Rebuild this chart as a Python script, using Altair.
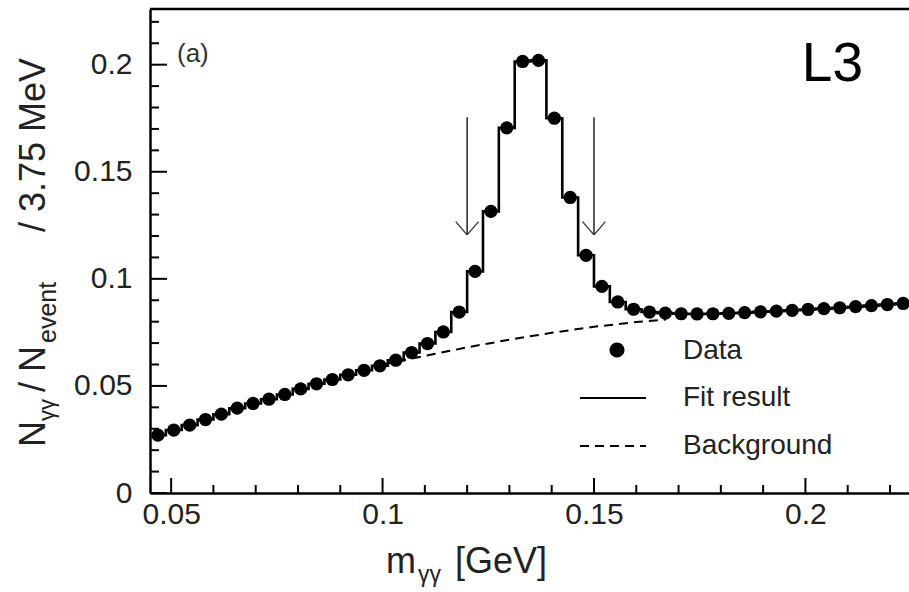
import altair as alt
import pandas as pd

# ---------------- data ----------------
bin_centers = [0.046875, 0.050625, 0.054375, 0.058125, 0.061875, 0.065625, 0.069375, 0.073125,
               0.076875, 0.080625, 0.084375, 0.088125, 0.091875, 0.095625, 0.099375, 0.103125,
               0.106875, 0.110625, 0.114375, 0.118125, 0.121875, 0.125625, 0.129375, 0.133125,
               0.136875, 0.140625, 0.144375, 0.148125, 0.151875, 0.155625, 0.159375, 0.163125,
               0.166875, 0.170625, 0.174375, 0.178125, 0.181875, 0.185625, 0.189375, 0.193125,
               0.196875, 0.200625, 0.204375, 0.208125, 0.211875, 0.215625, 0.219375, 0.223125]
data_values = [0.0270, 0.0294, 0.0317, 0.0343, 0.0368, 0.0396, 0.0418, 0.0438,
               0.0460, 0.0486, 0.0510, 0.0530, 0.0552, 0.0573, 0.0594, 0.0620,
               0.0656, 0.0698, 0.0752, 0.0845, 0.1035, 0.1315, 0.1705, 0.2015,
               0.2020, 0.1750, 0.1380, 0.1110, 0.0965, 0.0892, 0.0858, 0.0845,
               0.0840, 0.0837, 0.0836, 0.0837, 0.0839, 0.0842, 0.0846, 0.0849,
               0.0853, 0.0857, 0.0861, 0.0865, 0.0870, 0.0875, 0.0880, 0.0885]
fit_values = [0.0270, 0.0294, 0.0317, 0.0343, 0.0368, 0.0396, 0.0418, 0.0438,
              0.0460, 0.0486, 0.0510, 0.0530, 0.0552, 0.0573, 0.0594, 0.0620,
              0.0656, 0.0698, 0.0752, 0.0845, 0.1035, 0.1315, 0.1705, 0.2015,
              0.2020, 0.1750, 0.1380, 0.1110, 0.0965, 0.0892, 0.0858, 0.0845,
              0.0840, 0.0837, 0.0836, 0.0837, 0.0839, 0.0842, 0.0846, 0.0849,
              0.0853, 0.0857, 0.0861, 0.0865, 0.0870, 0.0875, 0.0880, 0.0885]
bg_x = [0.100, 0.110, 0.120, 0.130, 0.140, 0.150, 0.160, 0.167]
bg_y = [0.0600, 0.0640, 0.0680, 0.0716, 0.0748, 0.0776, 0.0798, 0.0810]

arrow_x = [0.12, 0.15]
arrow_top = 0.1755
arrow_tip = 0.1205

x_major = [0.05, 0.10, 0.15, 0.20]
x_minor = [0.06, 0.07, 0.08, 0.09, 0.11, 0.12, 0.13, 0.14, 0.16, 0.17, 0.18, 0.19, 0.21, 0.22]
y_major = [0.0, 0.05, 0.10, 0.15, 0.20]
y_minor = [0.01, 0.02, 0.03, 0.04, 0.06, 0.07, 0.08, 0.09, 0.11, 0.12, 0.13, 0.14,
           0.16, 0.17, 0.18, 0.19, 0.21, 0.22]

legend_labels = ["Data", "Fit result", "Background"]

# ---------------- layout ----------------
W, H = 759, 484
FONT = "Liberation Sans"
TXT = "#222222"

xscale = alt.Scale(domain=[0.045, 0.2245], nice=False, zero=False)
yscale = alt.Scale(domain=[0.0, 0.226], nice=False, zero=False)
xaxis = alt.Axis(values=x_major, format="~g", ticks=False, grid=False, title=None,
                 domainColor="black", domainWidth=2.5, labelFont=FONT, labelFontSize=30,
                 labelColor=TXT, labelPadding=6, labelFlush=False, labelOverlap=False)
yaxis = alt.Axis(values=y_major, format="~g", ticks=False, grid=False, title=None,
                 domainColor="black", domainWidth=2.5, labelFont=FONT, labelFontSize=30,
                 labelColor=TXT, labelPadding=18, labelOverlap=False)


def X(f):
    return alt.X(f, type="quantitative", scale=xscale, axis=xaxis)


def Y(f):
    return alt.Y(f, type="quantitative", scale=yscale, axis=yaxis)


df = pd.DataFrame({"m": bin_centers, "n": data_values, "fit": fit_values})
bg = pd.DataFrame({"m": bg_x, "n": bg_y})
one = alt.Data(values=[{}])

top_border = alt.Chart(one).mark_rule(stroke="black", strokeWidth=2.5).encode(
    x=alt.value(0), x2=alt.value(W), y=alt.value(0))

xt_major = alt.Chart(pd.DataFrame({"t": x_major})).mark_rule(stroke="black", strokeWidth=2).encode(
    x=X("t"), y=alt.value(H), y2=alt.value(H - 15))
xt_minor = alt.Chart(pd.DataFrame({"t": x_minor})).mark_rule(stroke="black", strokeWidth=2).encode(
    x=X("t"), y=alt.value(H), y2=alt.value(H - 8))
yt_major = alt.Chart(pd.DataFrame({"t": y_major})).mark_rule(stroke="black", strokeWidth=2).encode(
    y=Y("t"), x=alt.value(0), x2=alt.value(17))
yt_minor = alt.Chart(pd.DataFrame({"t": y_minor})).mark_rule(stroke="black", strokeWidth=2).encode(
    y=Y("t"), x=alt.value(0), x2=alt.value(9))

bg_line = alt.Chart(bg).mark_line(stroke="black", strokeWidth=2, strokeDash=[9, 6]).encode(
    x=X("m"), y=Y("n"))

fit_line = alt.Chart(df).mark_line(stroke="black", strokeWidth=2.6, interpolate="step").encode(
    x=X("m"), y=Y("fit"))

points = alt.Chart(df).mark_point(filled=True, shape="circle", size=175, color="black",
                                  opacity=1).encode(x=X("m"), y=Y("n"))

arr = pd.DataFrame({"ax": arrow_x, "top": [arrow_top] * 2, "tip": [arrow_tip] * 2,
                    "axl": [a - 0.0027 for a in arrow_x], "axr": [a + 0.0027 for a in arrow_x],
                    "wing": [arrow_tip + 0.0062] * 2})
shafts = alt.Chart(arr).mark_rule(stroke="#333333", strokeWidth=1.6).encode(
    x=X("ax"), y=Y("top"), y2="tip")
wing_l = alt.Chart(arr).mark_rule(stroke="#333333", strokeWidth=1.3).encode(
    x=X("axl"), y=Y("wing"), x2="ax", y2="tip")
wing_r = alt.Chart(arr).mark_rule(stroke="#333333", strokeWidth=1.3).encode(
    x=X("axr"), y=Y("wing"), x2="ax", y2="tip")

# legend
leg_dot = alt.Chart(one).mark_point(filled=True, shape="circle", size=230, color="black",
                                    opacity=1).encode(x=alt.value(467), y=alt.value(341))
leg_fit = alt.Chart(one).mark_rule(stroke="black", strokeWidth=2).encode(
    x=alt.value(430), x2=alt.value(496), y=alt.value(389))
leg_bg = alt.Chart(one).mark_rule(stroke="black", strokeWidth=2, strokeDash=[9, 6]).encode(
    x=alt.value(430), x2=alt.value(496), y=alt.value(437))
leg_txt = [
    alt.Chart(one).mark_text(text=lab, font=FONT, fontSize=28, color=TXT, align="left",
                             baseline="middle").encode(x=alt.value(533), y=alt.value(yy))
    for lab, yy in zip(legend_labels, [342, 389, 437])
]

label_a = alt.Chart(one).mark_text(text="(a)", font=FONT, fontSize=26, color="#333333",
                                   align="left", baseline="middle").encode(
    x=alt.value(27), y=alt.value(45))
label_l3 = alt.Chart(one).mark_text(text="L3", font=FONT, fontSize=55, color="black",
                                    align="right", baseline="middle").encode(
    x=alt.value(713), y=alt.value(55))


def rtext(s, size, x, y):
    return alt.Chart(one).mark_text(text=s, font=FONT, fontSize=size, color=TXT, angle=270,
                                    align="left", baseline="alphabetic").encode(
        x=alt.value(x), y=alt.value(y))


def htext(s, size, x, y):
    return alt.Chart(one).mark_text(text=s, font=FONT, fontSize=size, color=TXT,
                                    align="left", baseline="alphabetic").encode(
        x=alt.value(x), y=alt.value(y))


ytitle = [
    rtext("N", 36, -105, 438),
    rtext("γγ", 22, -96, 412),
    rtext("/ N", 36, -105, 383),
    rtext("event", 25, -94, 334),
    rtext("/ 3.75 MeV", 36, -105, 223),
]
xtitle = [
    htext("m", 36, 236, 564),
    htext("γγ", 23, 268, 573),
    htext("[GeV]", 36, 305, 564),
]

layers = [top_border, xt_major, xt_minor, yt_major, yt_minor, bg_line, fit_line, points,
          shafts, wing_l, wing_r, leg_dot, leg_fit, leg_bg] + leg_txt + [label_a, label_l3] + ytitle + xtitle

chart = alt.layer(*layers).properties(
    width=W, height=H, autosize="none",
    padding={"left": 150, "top": 9, "right": 0, "bottom": 99},
    background="white",
).configure_view(stroke=None)

chart.save("out.html", embed_options={"renderer": "svg", "actions": False})
